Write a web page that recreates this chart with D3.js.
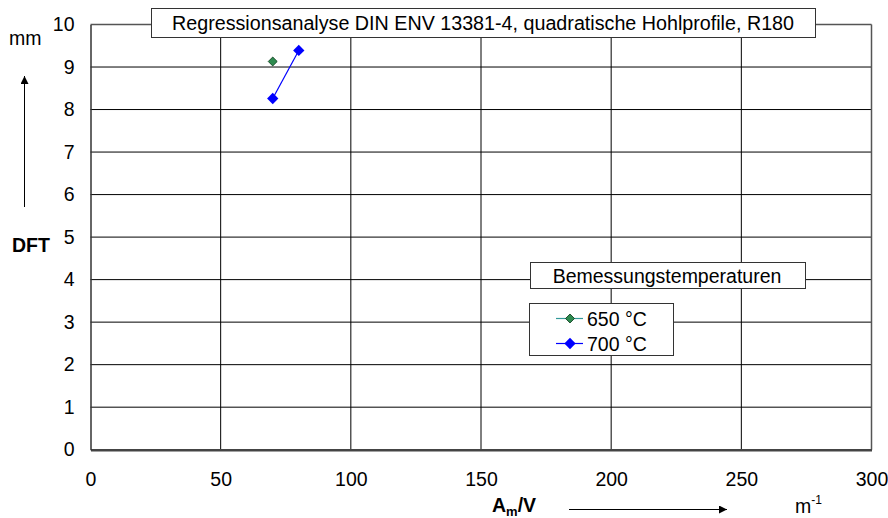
<!DOCTYPE html>
<html>
<head>
<meta charset="utf-8">
<script src="https://cdn.jsdelivr.net/npm/d3@7"></script>
<style>
  body { margin: 0; background: #fff; }
  svg { display: block; font-family: "Liberation Sans", Arial, sans-serif; }
  .tick text { font-size: 19.5px; fill: #000; }
</style>
</head>
<body>
<svg id="chart" width="888" height="518"></svg>
<script>
// data
const seriesNames = ["650 °C", "700 °C"];
const s650 = [{x: 70, y: 9.13}];
const s700 = [{x: 70, y: 8.26}, {x: 80, y: 9.39}];
const xTicks = [0, 50, 100, 150, 200, 250, 300];
const yTicks = [0, 1, 2, 3, 4, 5, 6, 7, 8, 9, 10];
const chartTitle = "Regressionsanalyse DIN ENV 13381-4, quadratische Hohlprofile, R180";
const legendTitle = "Bemessungstemperaturen";

const svg = d3.select("#chart");
const plotL = 90.5, plotR = 871.5, plotT = 24.5, plotB = 449.7;
const fs = 19.5;

const x = d3.scaleLinear().domain([0, 300]).range([plotL, plotR]);
const y = d3.scaleLinear().domain([0, 10]).range([plotB, plotT]);

// grid
svg.append("g")
    .selectAll("line")
    .data(yTicks.slice(1, -1))
    .join("line")
    .attr("x1", plotL).attr("x2", plotR)
    .attr("y1", d => y(d)).attr("y2", d => y(d))
    .attr("stroke", "#000").attr("stroke-width", 1);

svg.append("g")
    .selectAll("line")
    .data(xTicks.slice(1, -1))
    .join("line")
    .attr("x1", d => x(d)).attr("x2", d => x(d))
    .attr("y1", plotT).attr("y2", plotB)
    .attr("stroke", "#000").attr("stroke-width", 1);

// frame
svg.append("line").attr("x1", plotL).attr("x2", plotR).attr("y1", plotT).attr("y2", plotT)
    .attr("stroke", "#555").attr("stroke-width", 1.5);
svg.append("line").attr("x1", plotR).attr("x2", plotR).attr("y1", plotT).attr("y2", plotB)
    .attr("stroke", "#555").attr("stroke-width", 1.5);

// axes
const xAxis = d3.axisBottom(x).tickValues(xTicks).tickSize(0).tickPadding(22);
const gx = svg.append("g").attr("transform", `translate(0,${plotB})`).call(xAxis);
gx.select(".domain").attr("stroke", "#444").attr("stroke-width", 2.5);

const yAxis = d3.axisLeft(y).tickValues(yTicks).tickSize(0).tickPadding(16);
const gy = svg.append("g").attr("transform", `translate(${plotL},0)`).call(yAxis);
gy.select(".domain").attr("stroke", "#333").attr("stroke-width", 1.5);

// series
const diamond = d3.symbol().type(d3.symbolSquare);
const line = d3.line().x(d => x(d.x)).y(d => y(d.y));

svg.append("path").datum(s700)
    .attr("d", line).attr("fill", "none").attr("stroke", "#0000ff").attr("stroke-width", 1.2);

svg.append("g").selectAll("path").data(s700).join("path")
    .attr("transform", d => `translate(${x(d.x)},${y(d.y)}) rotate(45)`)
    .attr("d", diamond.size(64)())
    .attr("fill", "#0000ff");

svg.append("g").selectAll("path").data(s650).join("path")
    .attr("transform", d => `translate(${x(d.x)},${y(d.y)}) rotate(45)`)
    .attr("d", diamond.size(40)())
    .attr("fill", "#2e8b4f").attr("stroke", "#0b3d1c").attr("stroke-width", 0.8);

// title box
svg.append("rect").attr("x", 151.5).attr("y", 8.5).attr("width", 664).attr("height", 29)
    .attr("fill", "#fff").attr("stroke", "#333").attr("stroke-width", 1);
svg.append("text").attr("x", 483).attr("y", 30).attr("text-anchor", "middle")
    .attr("font-size", fs).attr("textLength", 622).attr("lengthAdjust", "spacingAndGlyphs")
    .text(chartTitle);

// legend
svg.append("rect").attr("x", 530.5).attr("y", 262.5).attr("width", 275).attr("height", 26)
    .attr("fill", "#fff").attr("stroke", "#333").attr("stroke-width", 1);
svg.append("text").attr("x", 667).attr("y", 282.5).attr("text-anchor", "middle")
    .attr("font-size", fs).text(legendTitle);

svg.append("rect").attr("x", 529.5).attr("y", 303.5).attr("width", 144).attr("height", 52)
    .attr("fill", "#fff").attr("stroke", "#333").attr("stroke-width", 1);

const legendColors = [
  {line: "#339999", fill: "#2e8b4f", stroke: "#0b3d1c", size: 40},
  {line: "#0000ff", fill: "#0000ff", stroke: "none", size: 64}
];
const items = svg.append("g").selectAll("g").data(seriesNames).join("g")
    .attr("transform", (d, i) => `translate(0,${318.5 + i * 25})`);
items.append("line").attr("x1", 556).attr("x2", 583).attr("y1", 0).attr("y2", 0)
    .attr("stroke", (d, i) => legendColors[i].line).attr("stroke-width", 1.2);
items.append("path").attr("transform", "translate(570,0) rotate(45)")
    .attr("d", (d, i) => diamond.size(legendColors[i].size)())
    .attr("fill", (d, i) => legendColors[i].fill)
    .attr("stroke", (d, i) => legendColors[i].stroke).attr("stroke-width", 0.8);
items.append("text").attr("x", 587).attr("y", 7).attr("font-size", fs).text(d => d);

// axis labels
svg.append("text").attr("x", 9).attr("y", 45).attr("font-size", fs).text("mm");
svg.append("text").attr("x", 12).attr("y", 252).attr("font-size", fs).attr("font-weight", "bold").text("DFT");

svg.append("defs").append("marker").attr("id", "arr")
    .attr("viewBox", "0 0 10 10").attr("refX", 10).attr("refY", 5)
    .attr("markerWidth", 12).attr("markerHeight", 8).attr("markerUnits", "userSpaceOnUse")
    .attr("orient", "auto")
    .append("path").attr("d", "M0,0 L10,5 L0,10 Z").attr("fill", "#000");

svg.append("line").attr("x1", 24.5).attr("x2", 24.5).attr("y1", 207).attr("y2", 76)
    .attr("stroke", "#000").attr("stroke-width", 1).attr("marker-end", "url(#arr)");
svg.append("line").attr("x1", 569).attr("x2", 727).attr("y1", 509.5).attr("y2", 509.5)
    .attr("stroke", "#000").attr("stroke-width", 1).attr("marker-end", "url(#arr)");

const am = svg.append("text").attr("x", 492).attr("y", 512).attr("font-size", fs).attr("font-weight", "bold");
am.append("tspan").text("A");
am.append("tspan").attr("dy", 4).attr("font-size", 13).text("m");
am.append("tspan").attr("dy", -4).text("/V");

const mu = svg.append("text").attr("x", 795).attr("y", 513).attr("font-size", fs);
mu.append("tspan").text("m");
mu.append("tspan").attr("dy", -9).attr("font-size", 12).text("-1");
</script>
</body>
</html>
